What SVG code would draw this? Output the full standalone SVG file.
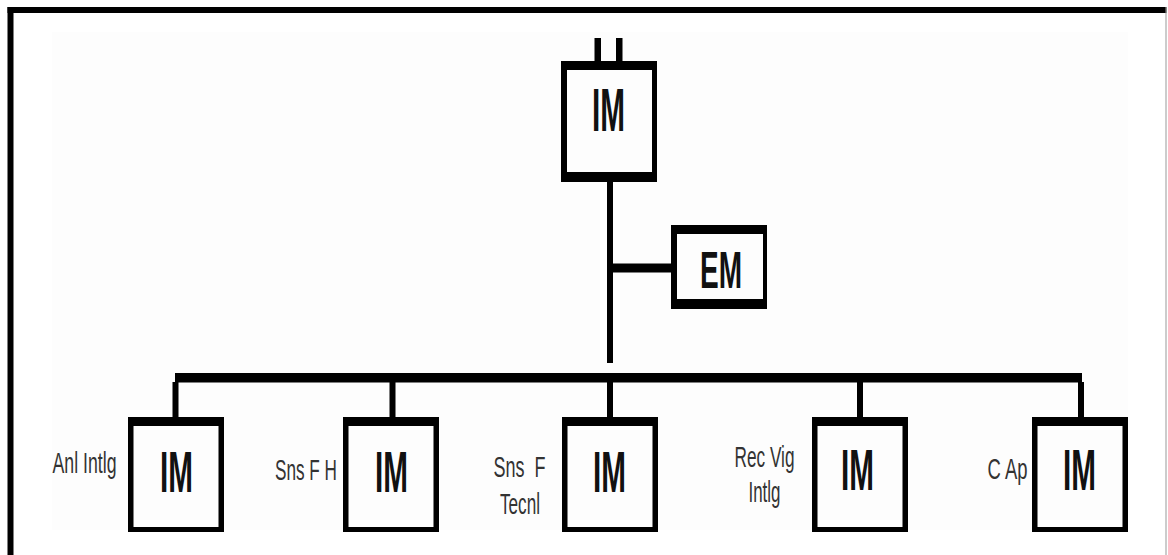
<svg xmlns="http://www.w3.org/2000/svg" width="1168" height="555" viewBox="0 0 1168 555">
<style>
.box{fill:#000;fill-rule:evenodd}
.im{font-family:"Liberation Sans",Arial,sans-serif;font-weight:bold;fill:#111}
.lbl{font-family:"Liberation Sans",Arial,sans-serif;font-size:29px;fill:#333}
.ln{fill:#000}
</style>
<rect width="1168" height="555" fill="#fff"/>
<rect x="52" y="32" width="1076" height="498" fill="#fdfdfd"/>
<g id="frame">
<rect x="7.5" y="7" width="1159" height="6" fill="#000"/>
<rect x="7.5" y="7" width="6" height="548" fill="#000"/>
<rect x="1165.5" y="7" width="1" height="548" fill="#999"/>
</g>
<g id="connectors">
<rect class="ln" x="594.5" y="38" width="6.5" height="24"/>
<rect class="ln" x="616" y="38" width="6.5" height="24"/>
<rect class="ln" x="607" y="181" width="6" height="182"/>
<rect class="ln" x="610" y="263.5" width="62" height="9"/>
<rect class="ln" x="175" y="373" width="907" height="9.5"/>
<rect class="ln" x="172.5" y="382" width="6" height="36"/>
<rect class="ln" x="389.5" y="382" width="6" height="36"/>
<rect class="ln" x="607" y="382" width="6" height="36"/>
<rect class="ln" x="857" y="382" width="6" height="36"/>
<rect class="ln" x="1078" y="382" width="6" height="36"/>
</g>
<g id="im-top">
<path class="box" d="M561 61H657V182H561Z M567 70V172H652V70Z"/>
<text class="im" x="592" y="131" font-size="61" textLength="33" lengthAdjust="spacingAndGlyphs">IM</text>
</g>
<g id="em">
<path class="box" d="M671 225H767V309H671Z M677 234V299H763V234Z"/>
<text class="im" x="700" y="287.5" font-size="52" textLength="42" lengthAdjust="spacingAndGlyphs">EM</text>
</g>
<g id="im-1">
<path class="box" d="M128 417H224V532H128Z M133.5 426V527H218.5V426Z"/>
<text class="im" x="160" y="491.5" font-size="58" textLength="33" lengthAdjust="spacingAndGlyphs">IM</text>
<text class="lbl" x="52.5" y="473" textLength="64" lengthAdjust="spacingAndGlyphs">Anl Intlg</text>
</g>
<g id="im-2">
<path class="box" d="M343 417H439V532H343Z M348.5 426V527H433.5V426Z"/>
<text class="im" x="375" y="491.5" font-size="58" textLength="33" lengthAdjust="spacingAndGlyphs">IM</text>
<text class="lbl" x="275" y="480" textLength="62" lengthAdjust="spacingAndGlyphs">Sns F H</text>
</g>
<g id="im-3">
<path class="box" d="M562 417H658V532H562Z M567.5 426V527H652.5V426Z"/>
<text class="im" x="593" y="491.5" font-size="58" textLength="33" lengthAdjust="spacingAndGlyphs">IM</text>
<text class="lbl" x="493.5" y="477" xml:space="preserve" textLength="52" lengthAdjust="spacingAndGlyphs">Sns  F</text>
<text class="lbl" x="500" y="514" textLength="40" lengthAdjust="spacingAndGlyphs">Tecnl</text>
</g>
<g id="im-4">
<path class="box" d="M812 417H908V532H812Z M817.5 426V527H902.5V426Z"/>
<text class="im" x="841" y="490" font-size="58" textLength="33" lengthAdjust="spacingAndGlyphs">IM</text>
<text class="lbl" x="734.5" y="467" textLength="60" lengthAdjust="spacingAndGlyphs">Rec Vig</text>
<text class="lbl" x="748.5" y="502" textLength="32" lengthAdjust="spacingAndGlyphs">Intlg</text>
</g>
<g id="im-5">
<path class="box" d="M1032 417H1128V532H1032Z M1037.5 426V527H1122.5V426Z"/>
<text class="im" x="1063" y="490" font-size="58" textLength="33" lengthAdjust="spacingAndGlyphs">IM</text>
<text class="lbl" x="987.5" y="478.5" textLength="40" lengthAdjust="spacingAndGlyphs">C Ap</text>
</g>
</svg>
